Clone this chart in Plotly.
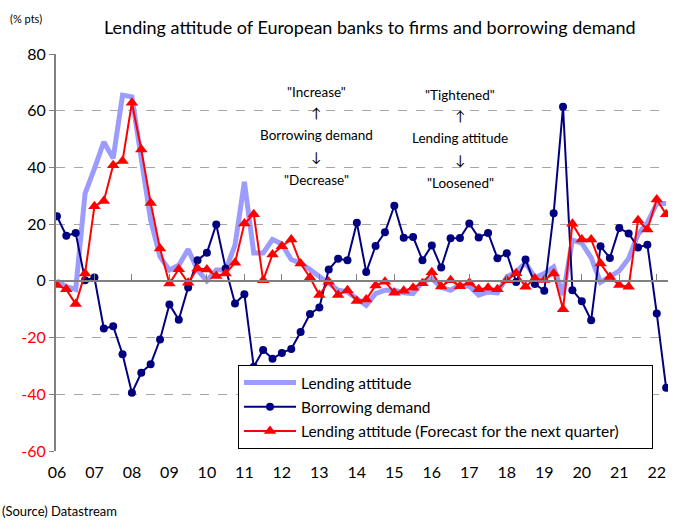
import plotly.graph_objects as go

# Quarterly data, 2006Q1 .. 2022Q2 (% pts)
year_labels = ["06", "07", "08", "09", "10", "11", "12", "13", "14", "15",
               "16", "17", "18", "19", "20", "21", "22"]

lending_attitude = [0, -2, -3, 30.8, 39.6, 49.0, 43.2, 65.5, 64.9, 42.6,
                    21.4, 8.5, 3.8, 5.5, 11.1, 3.8, 0, 3.8, 3.8, 12.6,
                    34.9, 9.8, 9.8, 14.6, 13.0, 7.5, 6.2, 4.0, 1.4, -0.7,
                    -3.3, -3.9, -6.2, -8.6, -4.5, -3.3, -3.3, -4.2, -4.5, -0.3,
                    0.8, -2.3, -3.3, -1.4, -1.9, -5.0, -3.9, -4.2, 1.4, 3.2,
                    6.4, 1.1, 2.6, 4.9, -5.0, 14.4, 13.3, 8.2, -0.5, 1.4,
                    3.5, 7.9, 16.4, 20.5, 27.3, 27.3]

borrowing_demand = [22.8, 15.9, 16.9, 0.2, 1.2, -16.8, -16.0, -25.9, -39.5, -32.4,
                    -29.4, -20.7, -8.3, -13.7, -2.3, 7.3, 9.9, 19.9, 4.4, -8.0,
                    -4.7, -30.3, -24.4, -27.5, -25.4, -24.0, -18.0, -11.7, -9.4, 4.0,
                    7.8, 7.3, 20.5, 3.1, 12.3, 17.1, 26.5, 15.2, 15.5, 7.3,
                    12.5, 4.7, 15.0, 15.1, 20.2, 15.3, 16.9, 8.0, 9.7, -0.4,
                    7.5, -1.1, -3.5, 23.8, 61.4, -3.3, -7.2, -13.9, 12.2, 8.1,
                    18.6, 16.7, 11.8, 12.7, -11.5, -37.7]

lending_forecast = [-1.5, -3.0, -8.2, 2.6, 26.3, 28.2, 40.8, 42.3, 62.8, 46.3,
                    27.5, 11.4, -0.9, 4.1, -0.7, 4.4, 4.0, 1.7, 2.6, 6.4,
                    20.2, 23.5, 0.2, 9.3, 12.2, 14.6, 6.1, 1.2, -5.0, -0.3,
                    -5.0, -3.3, -7.1, -6.6, -1.6, -0.3, -4.2, -3.5, -2.4, -0.8,
                    3.0, -2.0, 0.2, -1.9, -0.7, -3.0, -2.4, -3.0, 0.2, 2.7,
                    -2.1, 0.8, 0.3, 2.6, -10.0, 20.1, 14.6, 14.6, 6.1, 1.4,
                    -1.5, -2.1, 21.4, 18.1, 28.7, 23.5]

y_ticks = [-60, -40, -20, 0, 20, 40, 60, 80]

FONT = "Lato"
x = list(range(len(borrowing_demand)))
year_pos = [4 * k for k in range(len(year_labels))]

PAD = "\u00a0" * 7

fig = go.Figure()
fig.add_trace(go.Scatter(
    x=x, y=lending_attitude, mode="lines", name="Lending attitude",
    line=dict(color="#9C9CFF", width=5), legendgroup="a"))
fig.add_trace(go.Scatter(
    x=x, y=borrowing_demand, mode="lines+markers", name="Borrowing demand",
    line=dict(color="#000080", width=2),
    marker=dict(symbol="circle", size=8, color="#000080"), legendgroup="b"))
fig.add_trace(go.Scatter(
    x=x, y=lending_forecast, mode="lines+markers",
    name="Lending attitude (Forecast for the next quarter)" + PAD,
    line=dict(color="#FF0000", width=2),
    marker=dict(symbol="triangle-up", size=11, color="#FF0000"), legendgroup="c"))
# dummy trace so the zero-line axis is rendered
fig.add_trace(go.Scatter(x=[None], y=[None], xaxis="x2", showlegend=False,
                         hoverinfo="skip"))

ytext = []
for v in y_ticks:
    if v < 0:
        ytext.append('<span style="color:#FF0000">%d</span>' % v)
    else:
        ytext.append(str(v))

fig.update_layout(
    width=675, height=520,
    margin=dict(l=56, r=7, t=54, b=69),
    paper_bgcolor="white", plot_bgcolor="white",
    font=dict(family=FONT, color="#000000"),
    showlegend=True,
    legend=dict(x=(238 - 56) / 612, y=(451 - 365) / 397, xanchor="left",
                yanchor="top", bordercolor="#000000", borderwidth=1,
                bgcolor="white", font=dict(size=15.5, family=FONT),
                traceorder="grouped", tracegroupgap=1, itemwidth=52),
    xaxis=dict(range=[-0.1, 65.2], tickmode="array", tickvals=year_pos,
               ticktext=year_labels, showgrid=False, showline=False,
               zeroline=False, ticks="", tickfont=dict(size=16, family=FONT),
               ticklabelstandoff=10),
    xaxis2=dict(overlaying="x", matches="x", anchor="free",
                position=60 / 140, showline=True, linecolor="#808080",
                linewidth=2, ticks="inside", ticklen=6, tickcolor="#808080",
                tickwidth=1, tickmode="array", tickvals=year_pos,
                showticklabels=False, showgrid=False, zeroline=False),
    yaxis=dict(range=[-60, 80], tickmode="array", tickvals=y_ticks,
               ticktext=ytext, showgrid=True, gridcolor="#A6A6A6",
               griddash="dash", gridwidth=1, showline=True,
               linecolor="#808080", linewidth=2, ticks="outside", ticklen=5,
               tickcolor="#808080", zeroline=False,
               tickfont=dict(size=16, family=FONT)),
)

fig.add_annotation(text="Lending attitude of European banks to firms and borrowing demand",
                   xref="paper", yref="paper", x=(370 - 56) / 612, y=(451 - 27) / 397,
                   showarrow=False, font=dict(size=18, family=FONT),
                   xanchor="center", yanchor="middle")
fig.add_annotation(text="(% pts)", xref="paper", yref="paper",
                   x=(8 - 56) / 612, y=(451 - 18) / 397, showarrow=False,
                   font=dict(size=11, family=FONT), xanchor="left",
                   yanchor="middle")
fig.add_annotation(text="(Source) Datastream", xref="paper", yref="paper",
                   x=(0 - 56) / 612, y=(451 - 511) / 397, showarrow=False,
                   font=dict(size=13, family=FONT), xanchor="left",
                   yanchor="middle")

left_notes = ['"Increase"', "\u2191", "Borrowing demand", "\u2193", '"Decrease"']
left_y = [92, 113, 135, 157, 180]
right_notes = ['"Tightened"', "\u2191", "Lending attitude", "\u2193", '"Loosened"']
right_y = [95, 116, 138, 160, 183]
for t, py in zip(left_notes, left_y):
    fig.add_annotation(text=t, xref="paper", yref="paper",
                       x=(316 - 56) / 612, y=(451 - py) / 397, showarrow=False,
                       font=dict(size=13.5, family=FONT), xanchor="center",
                       yanchor="middle")
for t, py in zip(right_notes, right_y):
    fig.add_annotation(text=t, xref="paper", yref="paper",
                       x=(460 - 56) / 612, y=(451 - py) / 397, showarrow=False,
                       font=dict(size=13.5, family=FONT), xanchor="center",
                       yanchor="middle")

fig.write_html("out.html")
